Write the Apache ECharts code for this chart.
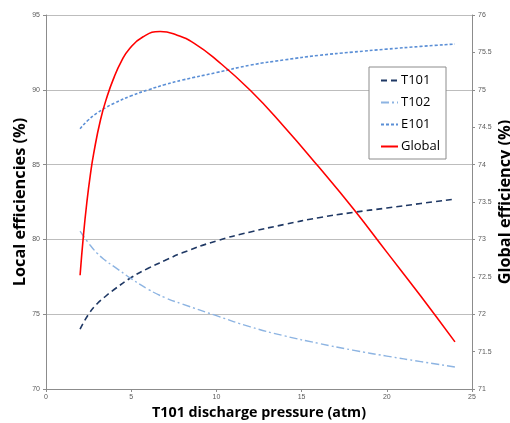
<!DOCTYPE html>
<html>
<head>
<meta charset="utf-8">
<script src="https://cdn.jsdelivr.net/npm/echarts@6/dist/echarts.min.js"></script>
<style>
  html, body { margin: 0; padding: 0; background: #fff; }
  #chart { width: 510px; height: 423px; }
</style>
</head>
<body>
<div id="chart"></div>
<script>
// 压力点 (atm)
var pressure = [2, 2.5, 3, 3.5, 4, 5, 6, 7, 8, 10, 12, 14, 16, 18, 20, 22, 24];
// 局部效率 (%)
var t101 = [74.0, 75.0, 75.7, 76.2, 76.65, 77.45, 78.07, 78.6, 79.1, 79.9, 80.5, 81.0, 81.45, 81.8, 82.1, 82.4, 82.7];
var t102 = [80.55, 79.75, 79.08, 78.58, 78.18, 77.38, 76.66, 76.1, 75.68, 74.9, 74.15, 73.55, 73.05, 72.6, 72.2, 71.83, 71.47];
var e101 = [87.4, 88.0, 88.45, 88.8, 89.1, 89.6, 90.0, 90.35, 90.65, 91.15, 91.65, 92.0, 92.3, 92.52, 92.72, 92.9, 93.06];
// 全局效率 (%)
var globalPressure = [2, 2.2, 2.4, 2.6, 2.8, 3.2, 3.6, 4, 4.4, 4.9, 5.7, 6.7, 7.7, 8.7, 10, 12, 14, 16, 18, 20, 22, 24];
var globalEff = [72.52, 73.06, 73.5, 73.86, 74.15, 74.6, 74.92, 75.17, 75.37, 75.55, 75.71, 75.78, 75.73, 75.62, 75.4, 74.99, 74.5, 73.97, 73.42, 72.83, 72.24, 71.63];

var leftTicks = { min: 70, max: 95, interval: 5 };
var rightTicks = { min: 71, max: 76, interval: 0.5 };

//把x和y组合成点
function pairs(xs, ys) {
  return xs.map(function(x, i) { return [x, ys[i]]; });
}

var tickLabel = { fontSize: 7, color: '#595959', fontFamily: 'Liberation Sans' };
var axisLine = { show: true, lineStyle: { color: '#8c8c8c', width: 1 } };
var axisTick = { show: true, length: 3, lineStyle: { color: '#8c8c8c' } };
var titleFont = { fontWeight: 'bold', color: '#000', fontFamily: 'Open Sans' };

var myChart = echarts.init(document.getElementById('chart'));
var option = {
  backgroundColor: '#ffffff',
  animation: false,
  grid: { left: 46, right: 38, top: 15, bottom: 34, outerBoundsMode: 'none', containLabel: false },
  legend: {
    orient: 'vertical',
    left: 369,
    top: 67,
    backgroundColor: '#ffffff',
    borderColor: '#8c8c8c',
    borderWidth: 1,
    padding: [7, 6, 6, 11],
    itemGap: 9,
    itemWidth: 17,
    itemHeight: 8,
    itemStyle: { opacity: 0 },
    textStyle: { fontSize: 13, color: '#000', fontFamily: 'Open Sans', padding: [0, 0, 0, -2] },
    data: ['T101', 'T102', 'E101', 'Global']
  },
  xAxis: {
    type: 'value',
    min: 0, max: 25, interval: 5,
    name: 'T101 discharge pressure (atm)',
    nameLocation: 'middle',
    nameGap: 14,
    nameTextStyle: Object.assign({ fontSize: 14.3 }, titleFont),
    axisLine: axisLine,
    axisTick: axisTick,
    axisLabel: Object.assign({ margin: 5 }, tickLabel),
    splitLine: { show: false }
  },
  yAxis: [
    {
      type: 'value',
      min: leftTicks.min, max: leftTicks.max, interval: leftTicks.interval,
      name: 'Local efficiencies (%)',
      nameLocation: 'middle',
      nameGap: 18,
      nameMoveOverlap: false,
      nameTextStyle: Object.assign({ fontSize: 16.3 }, titleFont),
      axisLine: axisLine,
      axisTick: axisTick,
      axisLabel: Object.assign({ margin: 6 }, tickLabel),
      splitLine: { show: true, lineStyle: { color: '#bdbdbd', width: 1 } }
    },
    {
      type: 'value',
      position: 'right',
      min: rightTicks.min, max: rightTicks.max, interval: rightTicks.interval,
      name: 'Global efficiency (%)',
      nameLocation: 'middle',
      nameGap: 25,
      nameRotate: 90,
      nameMoveOverlap: false,
      nameTextStyle: Object.assign({ fontSize: 16.3 }, titleFont),
      axisLine: axisLine,
      axisTick: axisTick,
      axisLabel: Object.assign({ margin: 6 }, tickLabel),
      splitLine: { show: false }
    }
  ],
  series: [
    {
      name: 'T101', type: 'line', smooth: true, symbol: 'none',
      data: pairs(pressure, t101),
      lineStyle: { color: '#1f3864', width: 1.6, type: [6, 4] },
      itemStyle: { color: '#1f3864' }
    },
    {
      name: 'T102', type: 'line', smooth: true, symbol: 'none',
      data: pairs(pressure, t102),
      lineStyle: { color: '#8db4e2', width: 1.4, type: [8, 3, 2, 3] },
      itemStyle: { color: '#8db4e2' }
    },
    {
      name: 'E101', type: 'line', smooth: true, symbol: 'none',
      data: pairs(pressure, e101),
      lineStyle: { color: '#5b8fd6', width: 1.6, type: [3, 2] },
      itemStyle: { color: '#5b8fd6' }
    },
    {
      name: 'Global', type: 'line', smooth: true, symbol: 'none', yAxisIndex: 1,
      data: pairs(globalPressure, globalEff),
      lineStyle: { color: '#ff0000', width: 1.6 },
      itemStyle: { color: '#ff0000' }
    }
  ]
};
myChart.setOption(option);
</script>
</body>
</html>
